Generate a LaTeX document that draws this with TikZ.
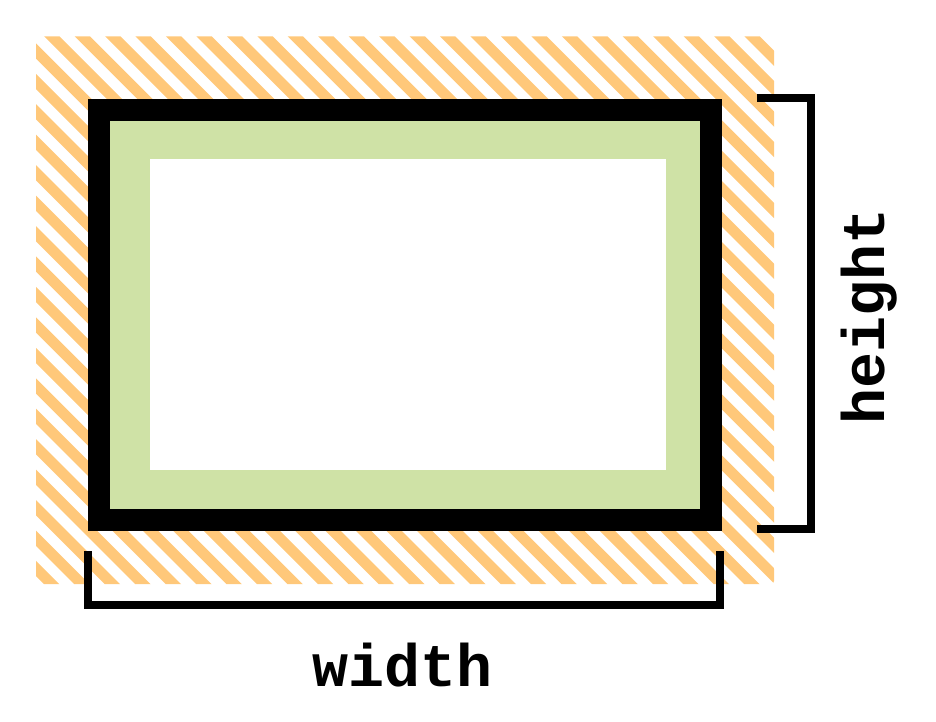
\documentclass[tikz,border=0pt]{standalone}
\usepackage{fontspec}
\setmonofont{Liberation Mono}
\definecolor{hatchorange}{RGB}{255,200,122}
\definecolor{padgreen}{RGB}{207,226,166}
\tikzset{
  hatchline/.style={draw=hatchorange, line width=10.77pt},
  bracket/.style={draw=black, line width=8pt, miter limit=10},
  lbl/.style={font=\ttfamily\bfseries\fontsize{60}{60}\selectfont, inner sep=0pt}
}
\begin{document}
\begin{tikzpicture}[x=1pt,y=-1pt]
\useasboundingbox (0,0) rectangle (936,722);
% margin hatching
\begin{scope}
\clip[rounded corners=3pt] (36,36.5) rectangle (774,584);
\foreach \k in {-26,...,26} {
  \draw[hatchline] ({15.5+30.45*\k},0) -- ({715.5+30.45*\k},700);
}
\end{scope}
% padding and content
\fill[padgreen] (99,110) rectangle (711,520);
\fill[white] (150,159) rectangle (666,470);
% border
\draw[line width=22pt] (99,110) rectangle (711,520);
% brackets
\coordinate (ht) at (757,98);
\coordinate (hb) at (757,529);
\coordinate (wl) at (88,551);
\coordinate (wr) at (720,551);
\draw[bracket] (ht) -- (811,98) -- (811,529) -- (hb);
\draw[bracket] (wl) -- (88,605) -- (720,605) -- (wr);
% labels
\node[lbl] (w) at (403,665) {width};
\node[lbl, rotate=90] (h) at (869,316) {height};
\end{tikzpicture}
\end{document}
